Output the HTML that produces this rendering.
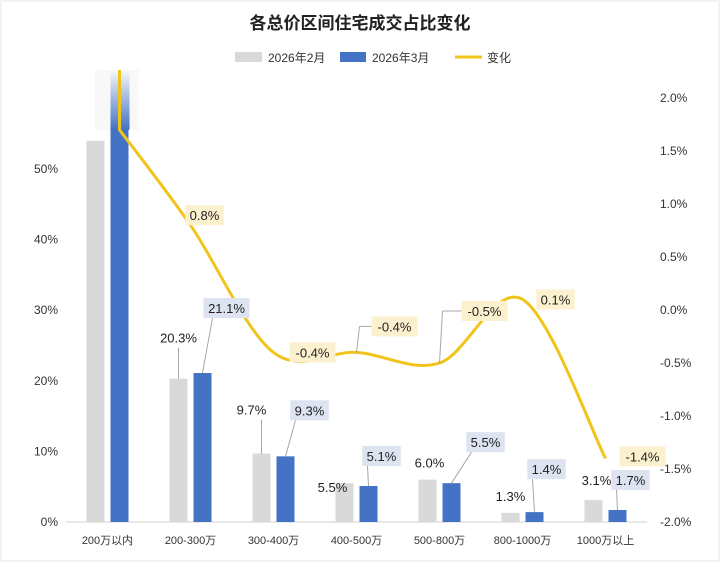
<!DOCTYPE html>
<html><head><meta charset="utf-8"><style>
body{margin:0;background:#fff;}
svg{display:block;font-family:"Liberation Sans","Noto Sans CJK SC",sans-serif;}
</style></head><body>
<svg id="chart" width="720" height="562" viewBox="0 0 720 562">
<defs><linearGradient id="fade" x1="0" y1="0" x2="0" y2="1"><stop offset="0" stop-color="#4472c4" stop-opacity="0"/><stop offset="1" stop-color="#4472c4" stop-opacity="1"/></linearGradient></defs>
<rect x="1" y="1" width="718" height="560" fill="#fff" stroke="#e6e6e6"/>
<text x="360" y="29" text-anchor="middle" font-size="17" font-weight="bold" fill="#222">各总价区间住宅成交占比变化</text>
<g>
<rect x="235" y="52" width="27" height="10" fill="#d9d9d9"/>
<text x="268" y="62" font-size="12" fill="#333">2026年2月</text>
<rect x="340" y="52" width="26" height="10" fill="#4472c4"/>
<text x="372" y="62" font-size="12" fill="#333">2026年3月</text>
<line x1="455" y1="57" x2="482" y2="57" stroke="#f0c419" stroke-width="3"/>
<text x="487" y="62" font-size="12" fill="#333">变化</text>
</g>
<g id="g"></g>
</svg>
<script>
const categories=["200万以内","200-300万","300-400万","400-500万","500-800万","800-1000万","1000万以上"];
const feb=[54.0,20.3,9.7,5.5,6.0,1.3,3.1];
const mar=[55.7,21.1,9.3,5.1,5.5,1.4,1.7];
const change=[1.7,0.8,-0.4,-0.4,-0.5,0.1,-1.4];
const leftTicks=[0,10,20,30,40,50];
const rightTicks=[-2.0,-1.5,-1.0,-0.5,0.0,0.5,1.0,1.5,2.0];
// layout offsets for labels (not data)
const febOff=[null,[0,-41],[-10,-44],[-12,4],[2,-17],[0,-17],[3,-20]];
const marOff=[null,[24,-65],[24,-46],[13,-30],[34,-41],[12,-43],[13,-30]];
const chgOff=[null,[14,-10],[39,0],[38,-26],[45,-52],[33,0],[37,-2]];
const NS="http://www.w3.org/2000/svg";
const g=document.getElementById('g');
const x0=66,band=83,base=522;
const xc=i=>x0+band*i+band/2;
const yL=v=>base-v*7.06;
const yR=v=>base-(v+2)*106;
function el(t,a,p){const e=document.createElementNS(NS,t);for(const k in a)e.setAttribute(k,a[k]);(p||g).appendChild(e);return e;}
function txt(x,y,s,a){const e=el('text',Object.assign({x:x,y:y,'font-size':12,fill:'#333'},a||{}));e.textContent=s;return e;}
leftTicks.forEach(v=>{const t=txt(58,yL(v)+4,v+'%',{'text-anchor':'end'});

});
rightTicks.forEach(v=>{const t=txt(660,yR(v)+4,v.toFixed(1)+'%');

});
const ax=el('line',{x1:x0,y1:base,x2:x0+band*7,y2:base,stroke:'#d0d0d0'});


categories.forEach((c,i)=>{const t=txt(xc(i),544,c,{'text-anchor':'middle','font-size':11});

});
// top fade artifact for first category
const fg=el('rect',{x:xc(0)-13,y:70,width:44,height:60,fill:'#f4f4f4',opacity:0.6});


const fb=el('rect',{x:xc(0)+3,y:70,width:19,height:yL(mar[0])-70+1,fill:'url(#fade)'});


function box(cx,cy,s,bg,name){const w=s.length*7.6+8;
const r=el('rect',{x:cx-w/2,y:cy-10,width:w,height:20,fill:bg});


const t=txt(cx,cy+5,s,{'text-anchor':'middle','font-size':13,fill:'#222'});

}
function leader(x1,y1,x2,y2){const l=el('line',{x1:x1,y1:y1,x2:x2,y2:y2,stroke:'#a6a6a6','stroke-width':1});

}
categories.forEach((c,i)=>{
 const gx=xc(i)-12,bx=xc(i)+12;
 const r1=el('rect',{x:gx-9,y:yL(feb[i]),width:18,height:base-yL(feb[i]),fill:'#d9d9d9'});
 
 
 const r2=el('rect',{x:bx-9,y:yL(mar[i]),width:18,height:base-yL(mar[i]),fill:'#4472c4'});
 
 
});
// curve
const pts=change.map((v,i)=>[i===0?xc(0)+12:xc(i),yR(v)]);
let d=`M${pts[0][0]},70 L${pts[0][0]},${pts[0][1]}`;
for(let i=0;i<pts.length-1;i++){const p0=pts[Math.max(0,i-1)],p1=pts[i],p2=pts[i+1],p3=pts[Math.min(pts.length-1,i+2)];
 const c1=[p1[0]+(p2[0]-p0[0])/6,p1[1]+(p2[1]-p0[1])/6],c2=[p2[0]-(p3[0]-p1[0])/6,p2[1]-(p3[1]-p1[1])/6];
 d+=` C${c1[0]},${c1[1]} ${c2[0]},${c2[1]} ${p2[0]},${p2[1]}`;}
const line=el('path',{d:d,fill:'none',stroke:'#f0c419','stroke-width':3});


categories.forEach((c,i)=>{
 const gx=xc(i)-12,bx=xc(i)+12;
 if(febOff[i]){const lx=gx+febOff[i][0],ly=yL(feb[i])+febOff[i][1];
  if(febOff[i][1]<-25) leader(gx,yL(feb[i]),gx,ly+10);
  box(lx,ly,feb[i].toFixed(1)+'%','rgba(255,255,255,0)','label-feb');}
 if(marOff[i]){const lx=bx+marOff[i][0],ly=yL(mar[i])+marOff[i][1];
  leader(bx,yL(mar[i]),lx-14,ly+10);
  box(lx,ly,mar[i].toFixed(1)+'%','#dde3f0','label-mar');}
 if(chgOff[i]){const lx=pts[i][0]+chgOff[i][0],ly=pts[i][1]+chgOff[i][1];
  if(chgOff[i][1]<-20){leader(pts[i][0],pts[i][1],pts[i][0]+3,ly);leader(pts[i][0]+3,ly,lx-22,ly);}
  box(lx,ly,change[i].toFixed(1)+'%','#fcf1cf','label-change');}
});
</script>
</body></html>
